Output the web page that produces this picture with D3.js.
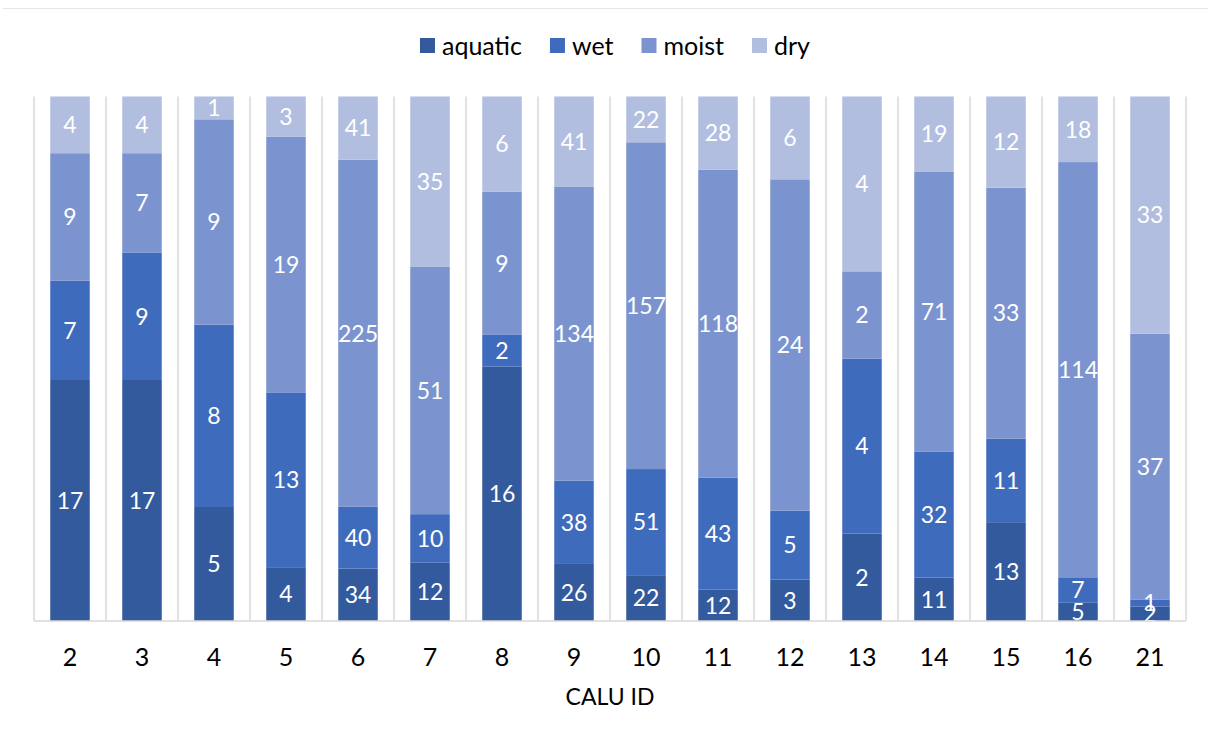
<!DOCTYPE html>
<html><head><meta charset="utf-8">
<script src="https://cdn.jsdelivr.net/npm/d3@7/dist/d3.min.js"></script>
<style>body{margin:0;background:#fff}svg{display:block}</style>
</head><body>
<svg id="c" width="1208" height="742"></svg>
<script>
const categories = ["2","3","4","5","6","7","8","9","10","11","12","13","14","15","16","21"];
const aquatic = [17,17,5,4,34,12,16,26,22,12,3,2,11,13,5,2];
const wet     = [7,9,8,13,40,10,2,38,51,43,5,4,32,11,7,1];
const moist   = [9,7,9,19,225,51,9,134,157,118,24,2,71,33,114,37];
const dry     = [4,4,1,3,41,35,6,41,22,28,6,4,19,12,18,33];
const seriesNames = ["aquatic","wet","moist","dry"];
const seriesColors = ["#335a9c","#3f6bbd","#7b94d0","#b1bee0"];
const xTitle = "CALU ID";

const svg = d3.select("#c");
const font = "Lato, 'Open Sans', sans-serif";
const m = {left:34, right:1186, top:96.5, bottom:621};

svg.append("line").attr("x1",3).attr("x2",1208).attr("y1",8.5).attr("y2",8.5)
  .attr("stroke","#e6e6e6").attr("stroke-width",1);

const x = d3.scaleBand().domain(categories).range([m.left,m.right]).paddingInner(0).paddingOuter(0);
const y = d3.scaleLinear().domain([0,1]).range([m.bottom,m.top]);

const bounds = categories.map(c=>x(c)).concat([m.right]);
svg.append("g").selectAll("line").data(bounds).join("line")
  .attr("x1",d=>d).attr("x2",d=>d).attr("y1",m.top).attr("y2",m.bottom)
  .attr("stroke","#d9d9d9").attr("stroke-width",1.5);

const table = categories.map((c,i)=>{
  const vals = [aquatic[i],wet[i],moist[i],dry[i]];
  const tot = d3.sum(vals);
  const o = {cat:c};
  seriesNames.forEach((s,j)=>o[s]=vals[j]/tot);
  o.raw = vals;
  return o;
});
const stacked = d3.stack().keys(seriesNames)(table);
const bw = 39.5;

const g = svg.append("g");
stacked.forEach((layer,j)=>{
  g.append("g").selectAll("rect").data(layer).join("rect")
    .attr("x",d=>x(d.data.cat)+x.bandwidth()/2-bw/2)
    .attr("width",bw)
    .attr("y",d=>y(d[1]))
    .attr("height",d=>y(d[0])-y(d[1]))
    .attr("fill",seriesColors[j]);
});
svg.append("line").attr("x1",m.left).attr("x2",m.right).attr("y1",m.bottom).attr("y2",m.bottom)
  .attr("stroke","#d9d9d9").attr("stroke-width",1.5);

stacked.forEach((layer,j)=>{
  g.append("g").selectAll("text").data(layer).join("text")
    .attr("x",d=>x(d.data.cat)+x.bandwidth()/2)
    .attr("y",d=>(y(d[0])+y(d[1]))/2)
    .attr("dy","0.36em")
    .attr("text-anchor","middle")
    .attr("fill","#fff")
    .attr("font-family",font).attr("font-size",23)
    .text(d=>d.data.raw[j]);
});

const xAxis = d3.axisBottom(x).tickSize(0).tickPadding(0);
const ax = svg.append("g").attr("transform",`translate(0,${m.bottom})`).call(xAxis);
ax.select(".domain").remove();
ax.selectAll("text").attr("font-family",font).attr("font-size",25).attr("fill","#000")
  .attr("y",36).attr("dy","0.36em").attr("dx",0);

svg.append("text").attr("x",(m.left+m.right)/2).attr("y",697).attr("dy","0.36em")
  .attr("text-anchor","middle").attr("font-family",font).attr("font-size",23).attr("fill","#000")
  .text(xTitle);

const leg = svg.append("g");
const items = [];
let cx = 0;
const lfs = 25;
const gap = 28;
const tmp = svg.append("text").attr("font-family",font).attr("font-size",lfs);
seriesNames.forEach((s,i)=>{
  tmp.text(s);
  const w = tmp.node().getComputedTextLength();
  items.push({s,i,x:cx,w});
  cx += 15+7+w+gap;
});
tmp.remove();
const total = cx-gap;
const lx0 = 615 - total/2;
items.forEach(it=>{
  leg.append("rect").attr("x",lx0+it.x).attr("y",38).attr("width",15).attr("height",15).attr("fill",seriesColors[it.i]);
  leg.append("text").attr("x",lx0+it.x+22).attr("y",45.5).attr("dy","0.36em")
    .attr("font-family",font).attr("font-size",lfs).attr("fill","#000").text(it.s);
});
</script>
</body></html>
